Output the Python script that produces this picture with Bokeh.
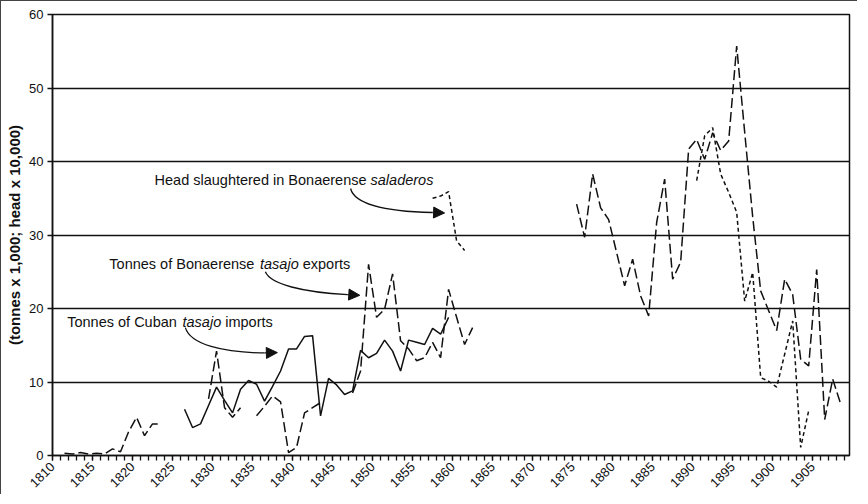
import numpy as np
from math import pi
from bokeh.plotting import figure
from bokeh.models import Range1d, Label, Arrow, NormalHead, FixedTicker
from bokeh.embed import file_html
from bokeh.resources import INLINE

# ---------------- data (annual values, tonnes x 1,000 / head x 10,000) ----------------
cuba_years = list(range(1826, 1860))
cuba_imports = [6.3, 3.8, 4.3, 6.8, 9.3, 7.5, 5.8, 9.0, 10.2, 9.7,
                7.4, 9.4, 11.5, 14.5, 14.5, 16.2, 16.3, 5.4, 10.5, 9.6,
                8.3, 8.8, 14.3, 13.3, 13.9, 15.7, 14.2, 11.5, 15.7, 15.4,
                15.1, 17.3, 16.5, 18.8]

exp_a_years = list(range(1811, 1824))
exp_a = [0.3, 0.2, 0.4, 0.2, 0.3, 0.2, 0.9, 0.5, 3.2, 5.2, 2.7, 4.3, 4.3]
exp_b_years = list(range(1829, 1834))
exp_b = [7.7, 14.2, 6.5, 5.2, 6.5]
exp_c_years = list(range(1835, 1844))
exp_c = [5.4, 6.7, 8.1, 7.3, 0.4, 1.1, 5.8, 6.5, 7.2]
exp_d_years = list(range(1847, 1863))
exp_d = [8.5, 11.5, 26.0, 18.8, 19.9, 24.7, 15.6, 14.5, 12.9, 13.3,
         15.4, 13.3, 22.6, 18.8, 15.1, 17.4]
exp_e_years = list(range(1875, 1909))
exp_e = [34.2, 29.7, 38.3, 33.7, 32.1, 27.6, 23.1, 26.7, 21.7, 19.0,
         31.7, 37.6, 24.0, 26.3, 41.7, 43.0, 40.3, 43.9, 41.5, 42.8,
         55.7, 44.0, 32.5, 22.4, 19.7, 17.0, 24.0, 21.9, 13.1, 12.2,
         25.3, 4.9, 10.4, 7.0]

head_a_years = list(range(1857, 1862))
head_a = [35.0, 35.3, 35.9, 29.2, 27.9]
head_b_years = list(range(1890, 1905))
head_b = [37.4, 43.5, 44.6, 38.3, 35.8, 33.1, 21.0, 24.9, 10.6, 10.1,
          9.3, 13.8, 18.3, 1.1, 6.1]

x_ticks = list(range(1810, 1910, 5))
x_minor = list(range(1810, 1910))
y_ticks = [0, 10, 20, 30, 40, 50, 60]
y_title = "(tonnes x 1,000; head x 10,000)"

FONT = "Liberation Sans"
INK = "#111111"

p = figure(frame_width=797, frame_height=441,
           x_range=Range1d(1810, 1909.6), y_range=Range1d(0, 60),
           output_backend="svg", toolbar_location=None,
           min_border_left=51, min_border_top=13, min_border_right=8, min_border_bottom=35,
           background_fill_color="white", border_fill_color="white")
p.styles = {"border-left": "1px solid #444", "border-top": "1px solid #444"}

p.outline_line_color = INK
p.outline_line_width = 1.5
p.outline_line_alpha = 1.0
p.xgrid.visible = False
p.ygrid.ticker = FixedTicker(ticks=y_ticks)
p.ygrid.grid_line_color = INK
p.ygrid.grid_line_width = 1.3
p.ygrid.grid_line_alpha = 1.0

p.xaxis.ticker = FixedTicker(ticks=x_ticks, minor_ticks=x_minor)
p.xaxis.formatter.use_scientific = False
p.xaxis.major_label_orientation = pi / 4
p.yaxis.ticker = FixedTicker(ticks=y_ticks)
p.yaxis.axis_label = y_title
p.yaxis.axis_label_text_font = FONT
p.yaxis.axis_label_text_font_size = "15px"
p.yaxis.axis_label_text_font_style = "bold"
p.yaxis.axis_label_text_color = INK
p.yaxis.axis_label_standoff = 3
for ax in (p.xaxis, p.yaxis):
    ax.axis_line_color = INK
    ax.axis_line_width = 1.5
    ax.major_tick_line_color = INK
    ax.minor_tick_line_color = INK
    ax.major_tick_line_width = 1.3
    ax.minor_tick_line_width = 1.3
    ax.major_tick_out = 5
    ax.major_tick_in = 0
    ax.minor_tick_out = 5
    ax.minor_tick_in = 0
    ax.major_label_text_font = FONT
    ax.major_label_text_font_size = "13px"
    ax.major_label_text_color = INK
    ax.major_label_standoff = 4

# annual values drawn at mid-year
def mid(years):
    return np.array(years, dtype=float) + 0.5

p.line(mid(cuba_years), cuba_imports, line_color=INK, line_width=1.5)
for yrs, vals in [(exp_a_years, exp_a), (exp_b_years, exp_b), (exp_c_years, exp_c),
                  (exp_d_years, exp_d), (exp_e_years, exp_e)]:
    p.line(mid(yrs), vals, line_color=INK, line_width=1.5, line_dash="10 4")
for yrs, vals in [(head_a_years, head_a), (head_b_years, head_b)]:
    p.line(mid(yrs), vals, line_color=INK, line_width=1.5, line_dash="4 3")

# annotations
def label(x, y, text, dx=0, italic=False):
    p.add_layout(Label(x=x, y=y, x_offset=dx, text=text, text_font=FONT,
                       text_font_size="14.5px", text_color=INK,
                       text_font_style="italic" if italic else "normal",
                       text_baseline="alphabetic", text_align="left"))

label(1822.75, 37.46, "Head slaughtered in Bonaerense")
label(1822.75, 37.46, "saladeros", dx=216, italic=True)
label(1817.1, 26.03, "Tonnes of Bonaerense")
label(1817.1, 26.03, "tasajo", dx=150.7, italic=True)
label(1817.1, 26.03, "exports", dx=193.4)
label(1811.84, 18.19, "Tonnes of Cuban")
label(1811.84, 18.19, "tasajo", dx=115.3, italic=True)
label(1811.84, 18.19, "imports", dx=158.0)

p.bezier(x0=[1847.25, 1836.6, 1826.6], y0=[36.33, 25.0, 17.4],
         x1=[1857.5, 1846.9, 1836.5], y1=[33.06, 21.9, 13.95],
         cx0=[1847.75, 1837.25, 1827.25], cy0=[34.15, 23.3, 15.1],
         cx1=[1851.9, 1841.25, 1831.25], cy1=[33.2, 22.2, 14.0],
         line_color=INK, line_width=1.3)
for xs, ys, xe, ye in [(1857.5, 33.06, 1859.0, 33.0),
                       (1846.9, 21.9, 1848.4, 21.8),
                       (1836.5, 13.95, 1838.1, 14.0)]:
    p.add_layout(Arrow(end=NormalHead(size=11, fill_color=INK, line_color=INK, line_width=1),
                       x_start=xs, y_start=ys, x_end=xe, y_end=ye,
                       line_color=INK, line_width=1.3))

open("out.html", "w").write(file_html(p, INLINE))
